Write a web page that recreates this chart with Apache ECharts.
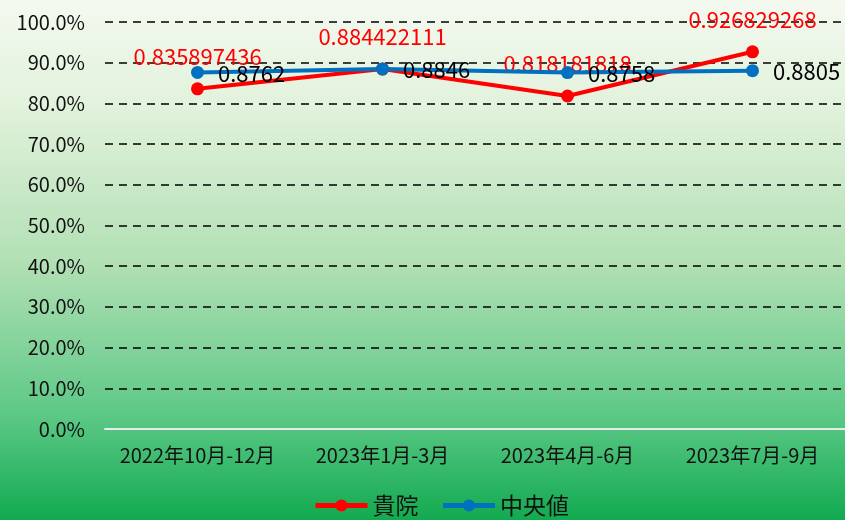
<!DOCTYPE html>
<html><head><meta charset="utf-8">
<script src="https://cdn.jsdelivr.net/npm/echarts@6/dist/echarts.min.js"></script>
<style>html,body{margin:0;padding:0;}#c{width:845px;height:520px;}</style>
</head><body><div id="c"></div>
<script>
const categories = ['2022年10月-12月', '2023年1月-3月', '2023年4月-6月', '2023年7月-9月'];
const hospitalValues = [0.835897436, 0.884422111, 0.818181818, 0.926829268];
const medianValues = [0.8762, 0.8846, 0.8758, 0.8805];
const seriesNames = ['貴院', '中央値'];
const yTicks = { min: 0, max: 1, interval: 0.1 };

const FONT = '"Noto Sans CJK JP", "Noto Sans", sans-serif';
const chart = echarts.init(document.getElementById('c'), null, { renderer: 'canvas' });
chart.setOption({
  animation: false,
  backgroundColor: new echarts.graphic.LinearGradient(0, 0, 0, 1, [
    { offset: 0, color: '#f4f9f0' },
    { offset: 0.2, color: '#e2f2dc' },
    { offset: 0.5, color: '#b3e0b5' },
    { offset: 0.8, color: '#5cc886' },
    { offset: 1, color: '#12aa50' }
  ]),
  textStyle: { fontFamily: FONT },
  grid: { left: 105, right: -4, top: 22, bottom: 91, containLabel: false },
  legend: {
    bottom: -2,
    left: 308,
    itemWidth: 52,
    itemHeight: 15,
    itemGap: 22,
    lineStyle: { width: 5 },
    textStyle: { fontSize: 23, color: '#111', fontFamily: FONT },
    data: seriesNames
  },
  xAxis: {
    type: 'category',
    data: categories,
    boundaryGap: true,
    axisLine: { lineStyle: { color: '#e8ece8', width: 2 } },
    axisTick: { show: false },
    axisLabel: { interval: 0, fontSize: 20, color: '#111', margin: 16, fontFamily: FONT }
  },
  yAxis: {
    type: 'value',
    min: yTicks.min, max: yTicks.max, interval: yTicks.interval,
    axisLine: { show: false },
    axisTick: { show: false },
    splitLine: { lineStyle: { color: '#000', type: [8, 6], width: 1.5 } },
    axisLabel: {
      fontSize: 20, color: '#111', margin: 20, fontFamily: FONT,
      formatter: v => (v * 100).toFixed(1) + '%'
    }
  },
  series: [
    {
      name: seriesNames[0],
      type: 'line',
      data: hospitalValues,
      color: '#ff0000',
      symbol: 'circle',
      symbolSize: 13,
      lineStyle: { width: 4, color: '#ff0000' },
      itemStyle: { color: '#ff0000' },
      label: {
        show: true, position: 'top', distance: 15,
        fontSize: 22, color: '#ff0000', fontFamily: FONT,
        formatter: p => String(p.value)
      },
      z: 2
    },
    {
      name: seriesNames[1],
      type: 'line',
      data: medianValues,
      color: '#0070c0',
      symbol: 'circle',
      symbolSize: 13,
      lineStyle: { width: 4, color: '#0070c0' },
      itemStyle: { color: '#0070c0' },
      label: {
        show: true, position: 'right', distance: 14, offset: [0, 1],
        fontSize: 22, color: '#000', fontFamily: FONT,
        formatter: p => String(p.value)
      },
      z: 3
    }
  ]
});
</script></body></html>
